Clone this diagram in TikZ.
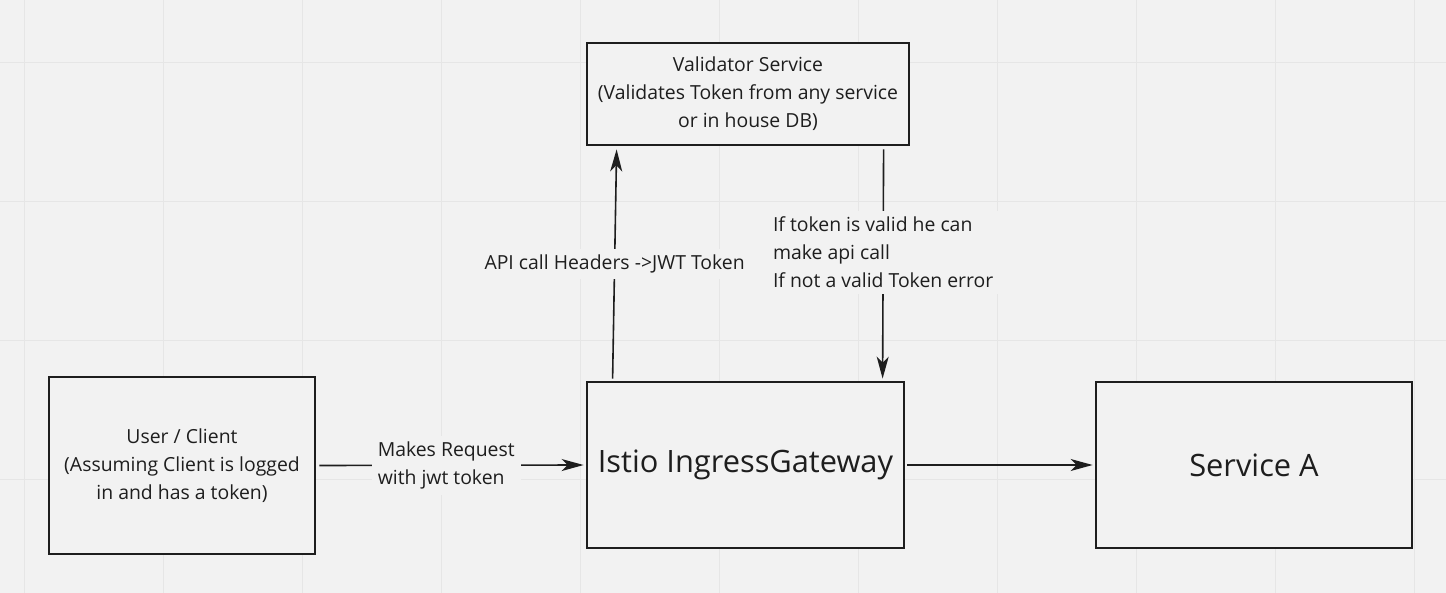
\documentclass[tikz,border=0pt]{standalone}
\usepackage{fontspec}
\setmainfont{Open Sans}
\usetikzlibrary{arrows.meta}
\definecolor{boardgray}{HTML}{F2F2F2}
\definecolor{gridgray}{HTML}{E6E6E6}
\definecolor{inkdark}{HTML}{1E1E1E}

\begin{document}
\begin{tikzpicture}[x=0.5pt,y=-0.5pt,
  box/.style={rectangle,draw=inkdark,line width=1.4pt,fill=boardgray,
    align=center,font=\fontsize{9.7}{14}\selectfont,text=inkdark,inner sep=0pt},
  bigbox/.style={box,font=\fontsize{15.4}{18}\selectfont},
  arr/.style={-{Stealth[length=11pt,width=6pt,inset=3pt]},line width=0.8pt,draw=inkdark},
  lbl/.style={fill=boardgray,align=left,font=\fontsize{9.7}{14}\selectfont,
    text=inkdark,inner sep=3pt}]

  % board and grid
  \fill[boardgray] (0,0) rectangle (1446,593);
  \useasboundingbox (0,0) rectangle (1446,593);
  \foreach \gx in {0,...,10}
    \draw[gridgray,line width=0.75pt] (24.5+139*\gx,0) -- ++(0,593);
  \foreach \gy in {0,...,3}
    \draw[gridgray,line width=0.75pt] (0,62.5+139*\gy) -- ++(1446,0);

  \node[box,minimum width=161pt,minimum height=51pt] (validator) at (748,94)
    {Validator Service\\(Validates Token from any service\\or in house DB)};
  \node[box,minimum width=133pt,minimum height=88.5pt] (client) at (182,465.5)
    {User / Client\\(Assuming Client is logged\\in and has a token)};
  \node[bigbox,minimum width=158.5pt,minimum height=83pt] (gateway) at (745.5,465)
    {Istio IngressGateway};
  \node[bigbox,minimum width=158pt,minimum height=83pt] (servicea) at (1254,465)
    {Service A};

  \draw[arr] ([xshift=1.5pt]client.east) -- node[lbl,pos=0.48] {Makes Request\\with jwt token} ([xshift=-1pt]gateway.west);
  \draw[arr] ([xshift=13.5pt,yshift=1pt]gateway.north west) -- node[lbl,pos=0.5] {API call Headers ->JWT Token}
    ([xshift=15.5pt,yshift=-1.5pt]validator.south west);
  \draw[arr] ([xshift=149pt,yshift=-1.5pt]validator.south west) -- node[lbl,pos=0.45]
    {If token is valid he can\\make api call\\If not a valid Token error} ([xshift=148.5pt,yshift=1pt]gateway.north west);
  \draw[arr] ([xshift=1pt]gateway.east) -- ([xshift=-1pt]servicea.west);
\end{tikzpicture}
\end{document}
